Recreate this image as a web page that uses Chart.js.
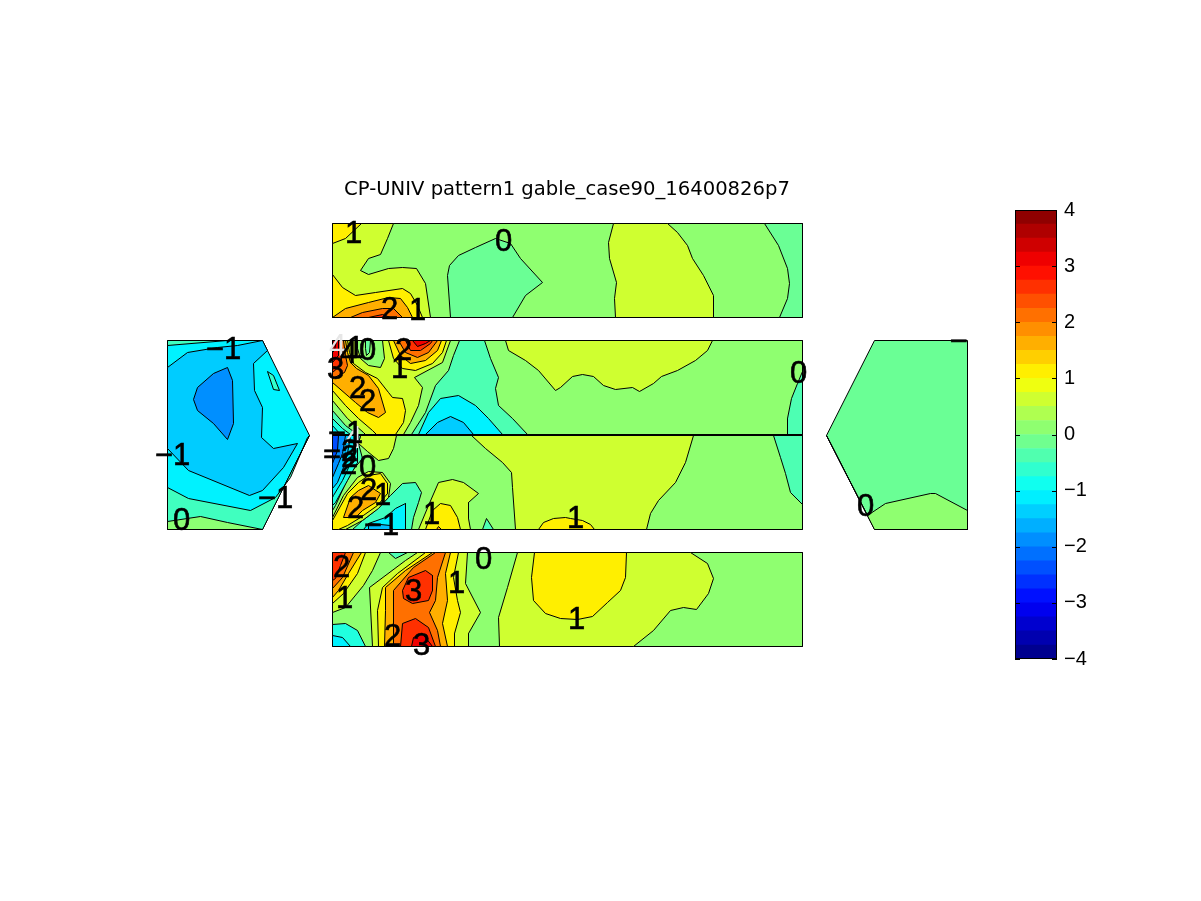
<!DOCTYPE html>
<html>
<head>
<meta charset="utf-8">
<style>
body { margin: 0; background: #fff; }
canvas { position: absolute; }
</style>
<script src="https://cdn.jsdelivr.net/npm/chart.js@4/dist/chart.umd.min.js"></script>
</head>
<body>
<canvas id="surface" width="1134" height="901" style="left:0;top:0;width:1134px;height:901px"></canvas>
<canvas id="colorbar" width="100" height="487" style="left:1005px;top:191px;width:100px;height:487px"></canvas>
<script>
const chartTitle = "CP-UNIV pattern1 gable_case90_16400826p7";
const barTicks = [-4, -3, -2, -1, 0, 1, 2, 3, 4];
const barBands = [-4, -3.75, -3.5, -3.25, -3, -2.75, -2.5, -2.25, -2, -1.75, -1.5, -1.25, -1, -0.75, -0.5, -0.25,
                  0, 0.25, 0.5, 0.75, 1, 1.25, 1.5, 1.75, 2, 2.25, 2.5, 2.75, 3, 3.25, 3.5, 3.75];

// contour patches, each one [pressure level, outline x,y,x,y...], painted in this order
const leftGable = [
  [-1.1, [167,340, 262,340, 309,435, 262,529, 167,529]],
  [-0.5, [167,340, 227,340, 167,345]],
  [-1.4, [167,367, 187,352, 217,347, 237,345, 262,340, 267,350, 253,363, 254,390, 262,407, 261,437, 273,448, 297,443, 283,467, 262,490, 249,495, 188,470, 167,448]],
  [-1.875, [227,367, 232,380, 233,423, 227,439, 213,423, 197,410, 193,399, 197,387, 213,373]],
  [-0.6, [267,371, 273,375, 279,390, 273,389]],
  [-0.5, [167,487, 188,498, 250,510, 275,497, 290,477, 307,437, 309,435, 262,529, 167,529]],
  [0.1, [167,521, 200,516, 227,522, 262,529, 167,529]]
];
const rightGable = [
  [-0.17, [967,340, 874,340, 826,435, 874,529, 967,529]],
  [0.125, [826,435, 867,515, 885,503, 930,493, 935,493, 967,510, 967,529, 874,529]]
];
const upperRoof = [
  [0.125, [332,223, 802,223, 802,317, 332,317]],
  [0.625, [332,223, 393,223, 387,238, 380,254, 368,258, 360,270, 368,274, 388,268, 402,267, 416,268, 425,283, 430,317, 332,317]],
  [1.125, [332,223, 361,223, 345,238, 332,243]],
  [1.125, [332,274, 342,287, 355,295, 375,292, 402,288, 410,293, 417,305, 422,317, 332,317]],
  [1.625, [332,317, 345,308, 368,302, 388,297, 400,298, 407,307, 412,317]],
  [2.125, [350,317, 362,312, 382,308, 393,308, 402,317]],
  [2.625, [368,317, 382,314, 390,317]],
  [-0.17, [450,317, 447,275, 449,265, 458,255, 475,247, 495,238, 510,243, 520,258, 542,282, 525,295, 512,317]],
  [0.625, [613,223, 608,242, 609,258, 616,282, 614,298, 615,317, 713,317, 713,295, 703,275, 692,258, 687,245, 677,232, 667,223]],
  [-0.17, [764,223, 778,245, 787,268, 789,283, 787,298, 779,317, 802,317, 802,223]]
];
const windRoof = [
  [0.125, [332,340, 802,340, 802,434, 332,434]],
  [0.625, [505,340, 508,350, 525,360, 538,370, 555,390, 560,387, 572,376, 582,374, 593,376, 603,385, 615,389, 632,387, 639,391, 653,383, 661,376, 677,370, 695,360, 707,350, 712,340]],
  [-0.4, [802,371, 797,383, 791,398, 787,418, 787,434, 802,434]],
  [-0.4, [459,340, 453,355, 448,370, 435,385, 425,412, 411,434, 527,434, 512,418, 498,405, 495,388, 498,377, 490,358, 484,340]],
  [-1.1, [418,434, 428,412, 440,398, 458,395, 475,405, 488,418, 502,434]],
  [-1.4, [425,434, 437,422, 450,416, 463,422, 473,434]],
  [0.625, [332,340, 450,340, 442,362, 414,377, 422,387, 418,405, 410,422, 403,434, 332,434]],
  [0.125, [357,340, 382,340, 384,358, 380,367, 368,365, 360,358, 357,348]],
  [-0.2, [365,340, 370,340, 369,352, 366,355, 365,348]],
  [1.125, [388,340, 393,358, 402,368, 415,370, 432,363, 442,352, 446,340]],
  [1.625, [393,340, 400,355, 410,363, 425,360, 437,350, 441,340]],
  [2.125, [398,340, 405,352, 417,357, 428,352, 437,340]],
  [2.625, [405,340, 410,350, 420,350, 430,343, 432,340]],
  [3.125, [412,340, 417,346, 425,343, 430,340]],
  [1.125, [332,340, 347,340, 349,352, 353,363, 365,372, 377,378, 388,392, 392,397, 402,398, 405,410, 403,422, 395,434, 332,434]],
  [1.625, [332,340, 345,340, 347,352, 350,362, 356,368, 368,375, 378,388, 385,412, 378,417, 367,412, 355,402, 332,382]],
  [2.125, [332,340, 343,340, 345,355, 347,365, 344,372, 332,378]],
  [2.625, [332,340, 340,340, 342,352, 340,365, 332,372]],
  [3.125, [332,340, 338,340, 338,355, 332,362]],
  [3.625, [332,340, 336,340, 334,350, 332,352]],
  [0.625, [332,390, 345,405, 358,418, 372,430, 376,434, 332,434]],
  [0.125, [332,400, 347,418, 363,432, 365,434, 332,434]],
  [-0.4, [332,410, 345,425, 357,434, 332,434]],
  [-0.75, [332,418, 342,428, 350,434, 332,434]],
  [-1.1, [332,425, 340,434, 332,434]]
];
const leeRoof = [
  [0.125, [332,435, 802,435, 802,529, 332,529]],
  [0.625, [471,435, 485,448, 502,462, 511,472, 512,487, 515,529, 646,529, 650,513, 658,500, 675,482, 685,462, 693,435]],
  [0.625, [418,529, 428,505, 438,482, 452,479, 463,482, 478,493, 468,502, 468,518, 470,529]],
  [1.125, [425,529, 432,510, 440,503, 450,505, 457,517, 460,529]],
  [1.625, [436,529, 438,526, 441,529]],
  [-0.4, [482,529, 486,518, 493,529]],
  [1.125, [538,529, 543,522, 553,518, 565,517, 570,518, 582,520, 590,524, 594,529]],
  [-0.4, [773,435, 780,457, 785,473, 790,492, 802,504, 802,435]],
  [0.625, [360,435, 396,435, 393,448, 388,458, 378,460, 367,451, 358,443]],
  [-0.4, [332,435, 360,435, 358,443, 362,458, 352,470, 345,483, 335,505, 332,510]],
  [-0.75, [332,435, 358,435, 357,447, 357,462, 347,480, 335,502, 332,505]],
  [-1.1, [332,435, 355,435, 353,450, 350,463, 342,480, 333,495, 332,497]],
  [-1.5, [332,435, 350,435, 347,453, 343,467, 337,482, 332,488]],
  [-1.9, [332,435, 345,435, 342,453, 338,463, 332,477]],
  [-2.4, [332,435, 338,435, 337,450, 332,463]],
  [-0.5, [352,529, 362,520, 375,510, 390,495, 402,483, 415,482, 421,492, 418,502, 413,517, 411,529]],
  [-1.1, [363,529, 368,523, 385,517, 395,508, 405,503, 405,529]],
  [-1.5, [368,529, 368,523, 380,524, 390,525, 392,529]],
  [0.625, [332,517, 343,495, 357,477, 368,471, 382,472, 390,483, 388,497, 378,508, 362,520, 345,529, 332,529]],
  [1.125, [332,520, 347,493, 358,482, 368,475, 380,473, 387,483, 387,493, 377,505, 360,517, 347,525, 338,529, 332,529]],
  [1.625, [343,517, 350,497, 358,490, 368,485, 380,493, 375,502, 362,510, 355,517]]
];
const lowerRoof = [
  [0.125, [332,552, 802,552, 802,646, 332,646]],
  [0.625, [517,552, 507,587, 498,617, 499,646, 633,646, 653,630, 670,610, 683,607, 696,609, 708,593, 713,578, 707,563, 690,552]],
  [1.125, [534,552, 626,552, 625,577, 620,590, 607,602, 592,616, 577,619, 560,618, 545,613, 533,600, 531,577]],
  [0.625, [372,646, 369,587, 405,560, 417,552, 467,552, 465,583, 480,612, 468,633, 468,646]],
  [-0.4, [388,552, 395,558, 407,552]],
  [1.125, [378,646, 377,610, 382,587, 397,573, 425,552, 458,552, 453,577, 457,600, 460,612, 454,633, 454,646]],
  [1.625, [384,646, 385,610, 385,587, 405,570, 432,552, 450,552, 445,573, 447,600, 442,623, 447,646]],
  [2.125, [393,646, 393,590, 413,567, 435,552, 445,552, 437,577, 435,600, 429,612, 437,630, 440,646]],
  [2.625, [402,590, 408,577, 425,570, 432,575, 432,590, 428,600, 412,603, 403,598]],
  [2.625, [400,646, 402,623, 415,618, 428,627, 435,646]],
  [3.125, [411,646, 413,637, 422,633, 432,646]],
  [0.625, [332,552, 380,552, 372,570, 363,585, 345,607, 332,612]],
  [1.125, [332,552, 365,552, 357,573, 343,593, 332,603]],
  [1.625, [332,552, 361,552, 348,573, 338,590, 332,597]],
  [2.125, [332,552, 353,552, 342,577, 332,588]],
  [2.625, [332,552, 345,552, 340,565, 335,578, 332,580]],
  [-0.75, [332,624, 345,623, 357,630, 365,646, 332,646]],
  [-1.1, [332,635, 342,637, 350,646, 332,646]]
];
const ridgeLine = [332,434.5, 802,434.5];

// contour labels: text, x, y
const contourLabels = [
  ["1",353,232], ["0",503,240], ["2",389,308], ["1",417,309],
  ["1",355,347], ["4",348,352], ["0",367,349], ["3",335,368], ["2",403,349], ["1",399,367],
  ["2",357,387], ["2",367,400], ["0",798,372], ["\u22121",345,432],
  ["\u22122",340,450], ["\u22122",340,456], ["2",348,463], ["0",367,466], ["2",368,489], ["1",382,494],
  ["2",355,507], ["\u22121",381,524], ["1",431,513], ["1",575,517],
  ["2",341,566], ["1",344,597], ["3",413,590], ["1",456,582], ["0",483,558], ["1",576,618],
  ["2",392,635], ["3",421,644],
  ["\u22121",223,348], ["\u22121",172,454], ["\u22121",275,497], ["0",181,519],
  ["0",865,505], ["\u2212",958,340]
];
const paleLabels = [["4",337,345], ["4",353,437]];

const panels = [leftGable, rightGable, upperRoof, windRoof, leeRoof, lowerRoof];

function jet(v) {
  const t = 4 * (v + 4) / 8;
  const c = k => Math.round(255 * Math.max(0, Math.min(1, 1.5 - Math.abs(t - k))));
  return "rgb(" + c(3) + "," + c(2) + "," + c(1) + ")";
}

function toPoints(flat) {
  const pts = [];
  for (let i = 0; i < flat.length; i += 2) pts.push({ x: flat[i], y: flat[i + 1] });
  pts.push({ x: flat[0], y: flat[1] });
  return pts;
}

const datasets = [];
panels.forEach(panel => panel.forEach(patch => {
  datasets.push({
    data: toPoints(patch[1]),
    showLine: true,
    fill: "shape",
    backgroundColor: jet(patch[0]),
    borderColor: "#000",
    borderWidth: 1,
    pointRadius: 0,
    tension: 0
  });
}));
datasets.push({ data: toPoints(ridgeLine), showLine: true, fill: false, borderColor: "#000", borderWidth: 2, pointRadius: 0 });
datasets.reverse(); // chart.js paints the last dataset first

const textPlugin = {
  id: "contourText",
  afterDatasetsDraw(chart) {
    const ctx = chart.ctx, sx = chart.scales.x, sy = chart.scales.y;
    ctx.save();
    ctx.font = "31px 'Liberation Sans'";
    ctx.textAlign = "center";
    ctx.textBaseline = "middle";
    ctx.lineWidth = 0.6;
    ctx.fillStyle = "#e6e6e6";
    paleLabels.forEach(l => ctx.fillText(l[0], sx.getPixelForValue(l[1]), sy.getPixelForValue(l[2]) + 2));
    ctx.fillStyle = "#000";
    contourLabels.forEach(l => {
      ctx.fillText(l[0], sx.getPixelForValue(l[1]), sy.getPixelForValue(l[2]) + 2);
      ctx.strokeText(l[0], sx.getPixelForValue(l[1]), sy.getPixelForValue(l[2]) + 2);
    });
    ctx.restore();
  }
};

new Chart(document.getElementById("surface"), {
  type: "scatter",
  data: { datasets: datasets },
  options: {
    responsive: false,
    devicePixelRatio: 1,
    animation: false,
    layout: { autoPadding: false },
    plugins: {
      legend: { display: false },
      tooltip: { enabled: false },
      title: {
        display: true,
        text: chartTitle,
        color: "#000",
        font: { family: "'DejaVu Sans'", size: 19.6, weight: "normal", lineHeight: "22px" },
        padding: { top: 179, bottom: 0 }
      }
    },
    scales: {
      x: { type: "linear", min: -0.5, max: 1133.5, display: false },
      y: { type: "linear", min: 200.5, max: 900.5, reverse: true, display: false }
    }
  },
  plugins: [textPlugin]
});

const barFrame = {
  id: "barFrame",
  afterDatasetsDraw(chart) {
    const ctx = chart.ctx, a = chart.chartArea, sy = chart.scales.y;
    ctx.save();
    ctx.strokeStyle = "#000";
    ctx.lineWidth = 1;
    ctx.strokeRect(a.left + 0.5, a.top + 0.5, a.right - a.left - 1, a.bottom - a.top - 1);
    ctx.beginPath();
    barTicks.forEach(t => {
      const y = Math.round(sy.getPixelForValue(t)) + 0.5;
      ctx.moveTo(a.left, y); ctx.lineTo(a.left + 5, y);
      ctx.moveTo(a.right - 5, y); ctx.lineTo(a.right, y);
    });
    ctx.stroke();
    ctx.restore();
  }
};

new Chart(document.getElementById("colorbar"), {
  type: "bar",
  data: {
    labels: ["cp"],
    datasets: barBands.map(lo => ({
      data: [[lo, lo + 0.25]],
      backgroundColor: jet(lo + 0.125),
      barPercentage: 1,
      categoryPercentage: 1,
      grouped: false
    }))
  },
  options: {
    responsive: false,
    devicePixelRatio: 1,
    animation: false,
    layout: { autoPadding: false, padding: { left: 10, top: 0, bottom: 0, right: 0 } },
    plugins: { legend: { display: false }, tooltip: { enabled: false } },
    scales: {
      x: { display: false },
      y: {
        position: "right",
        min: -4,
        max: 4,
        afterFit(axis) { axis.width = 48; },
        grid: { display: false, drawTicks: false },
        border: { display: false },
        afterBuildTicks(axis) { axis.ticks = barTicks.map(v => ({ value: v })); },
        ticks: {
          color: "#000",
          padding: 7,
          font: { family: "'Liberation Sans'", size: 20 },
          callback: v => String(v).replace("-", "\u2212")
        }
      }
    }
  },
  plugins: [barFrame]
});
</script>
</body>
</html>
